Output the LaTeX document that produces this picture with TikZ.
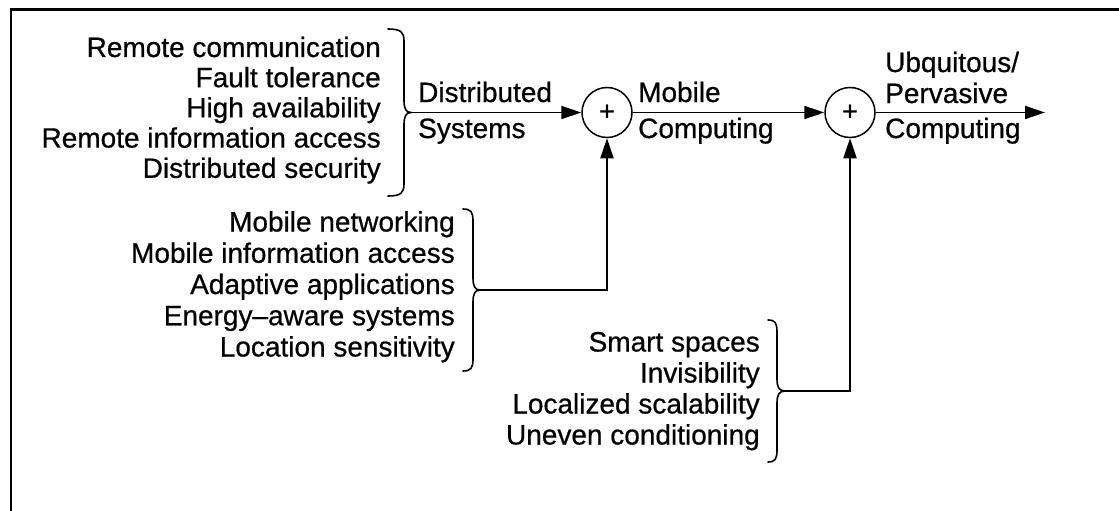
\documentclass[tikz,border=0pt]{standalone}
\usepackage{fontspec}
\setmainfont{Liberation Sans}
\newfontfamily\inkfont{Liberation Sans}[FakeBold=0.6]
\usetikzlibrary{arrows.meta}

% curly brace opening to the right: base x, top y, bottom y, body offset, tip offset, tip name
\newcommand{\rightcurly}[6]{%
  \draw[bracestroke]
    (#1,#2) .. controls ({#1+0.8*#4},#2) and ({#1+#4},{#2+3}) .. ({#1+#4},{#2+12})
    -- ({#1+#4},{(#2+#3)/2-12})
    .. controls ({#1+#4},{(#2+#3)/2-4}) and ({#1+#4+2},{(#2+#3)/2}) .. ({#1+#4+#5},{(#2+#3)/2})
    .. controls ({#1+#4+2},{(#2+#3)/2}) and ({#1+#4},{(#2+#3)/2+4}) .. ({#1+#4},{(#2+#3)/2+12})
    -- ({#1+#4},{#3-12})
    .. controls ({#1+#4},{#3-3}) and ({#1+0.8*#4},#3) .. (#1,#3);
  \coordinate (#6) at ({#1+#4+#5},{(#2+#3)/2});
}

\tikzset{
  txt/.style={inner sep=0pt, font=\inkfont\fontsize{28}{30}\selectfont},
  item/.style={txt, anchor=base east},
  tag/.style={txt, anchor=base west},
  bracestroke/.style={line width=1.6pt, line cap=round},
  summer/.style={circle, draw, line width=1.5pt, minimum size=50pt, inner sep=0pt,
                 font=\inkfont\fontsize{27}{27}\selectfont},
  conn/.style={line width=1.9pt},
  flow/.style={conn, -{Triangle[length=20pt, width=13pt]}},
  frameline/.style={line width=2.4pt}
}

\begin{document}
\begin{tikzpicture}[x=1pt, y=-1pt]
  \useasboundingbox (0,0) rectangle (1119,511);

  % page frame (top and left edges)
  \draw[frameline] (11,511) -- (11,9.5) -- (1119,9.5);

  % distributed systems issues
  \node[item] (r1) at (381,57)    {Remote communication};
  \node[item] (r2) at (381,87.2)  {Fault tolerance};
  \node[item] (r3) at (381,117.4) {High availability};
  \node[item] (r4) at (381,147.6) {Remote information access};
  \node[item] (r5) at (381,177.8) {Distributed security};

  % mobile computing issues
  \node[item] (m1) at (455,231.5)  {Mobile networking};
  \node[item] (m2) at (455,262.75) {Mobile information access};
  \node[item] (m3) at (455,294)    {Adaptive applications};
  \node[item] (m4) at (455,325.25) {Energy–aware systems};
  \node[item] (m5) at (455,356.5)  {Location sensitivity};

  % pervasive computing issues
  \node[item] (p1) at (760,351.5) {Smart spaces};
  \node[item] (p2) at (760,382.5) {Invisibility};
  \node[item] (p3) at (760,413.5) {Localized scalability};
  \node[item] (p4) at (760,444.5) {Uneven conditioning};

  % braces gathering each group
  \rightcurly{388}{29}{196}{16}{7}{t1}
  \rightcurly{463}{209}{371}{10}{7}{t2}
  \rightcurly{768}{320}{462}{9}{8}{t3}

  % summing junctions
  \node[summer] (s1) at (607,112.5) {+};
  \node[summer] (s2) at (850,112.5) {+};
  \coordinate (out) at (1045,112.5);

  % stage labels
  \node[tag] (d1) at (418,102) {Distributed};
  \node[tag] (d2) at (418,138) {Systems};
  \node[tag] (c1) at (638,102) {Mobile};
  \node[tag] (c2) at (638,138) {Computing};
  \node[tag] (u1) at (885,72)  {Ubquitous/};
  \node[tag] (u2) at (885,103) {Pervasive};
  \node[tag] (u3) at (885,138) {Computing};

  % connectors
  \draw[flow] (t1) -- (s1.west);
  \draw[flow] (t2) -| (s1.south);
  \draw[flow] (s1.east) -- (s2.west);
  \draw[flow] (t3) -| (s2.south);
  \draw[flow] (s2.east) -- (out);
\end{tikzpicture}
\end{document}
